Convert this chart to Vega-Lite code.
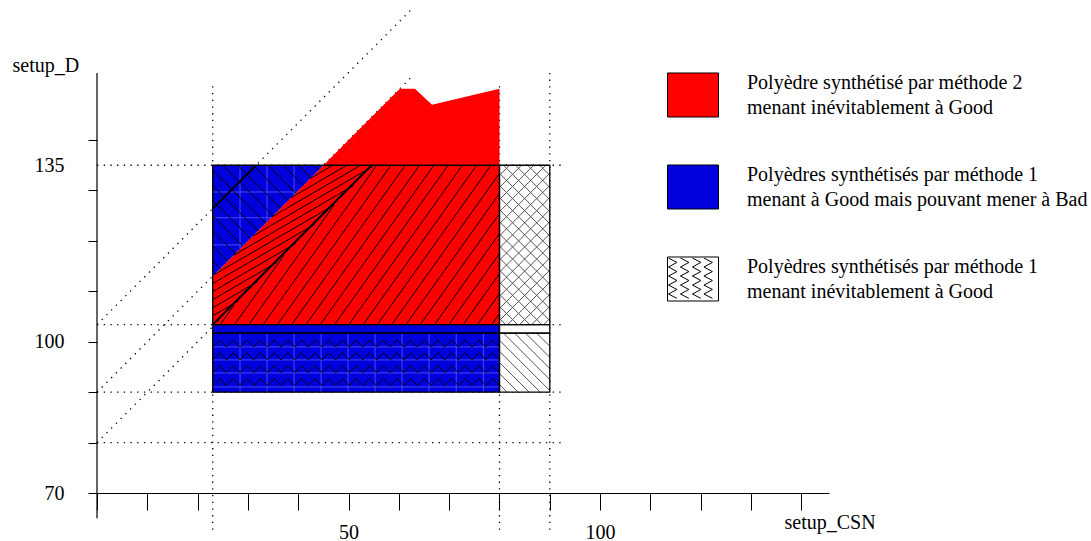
{
  "$schema": "https://vega.github.io/schema/vega-lite/v6.json",
  "width": 732,
  "height": 420,
  "autosize": {"type": "none"},
  "padding": {"left": 97, "top": 73, "right": 262, "bottom": 48},
  "background": "white",
  "config": {"view": {"stroke": null}, "font": "Liberation Serif"},
  "datasets": {
    "dots": [
      {"x": 0, "y": 135, "x2": 92.6, "y2": 135},
      {"x": 0, "y": 103.4, "x2": 92.6, "y2": 103.4},
      {"x": 0, "y": 90, "x2": 92.6, "y2": 90},
      {"x": 0, "y": 80, "x2": 92.6, "y2": 80},
      {"x": 23, "y": 62.7, "x2": 23, "y2": 150.8},
      {"x": 80, "y": 62.7, "x2": 80, "y2": 150.8},
      {"x": 90, "y": 62.7, "x2": 90, "y2": 153.3},
      {"x": 0, "y": 103.4, "x2": 62.6, "y2": 166},
      {"x": 0, "y": 90, "x2": 62.6, "y2": 152.6},
      {"x": 0, "y": 80, "x2": 62.6, "y2": 142.6}
    ],
    "red": [
      {"cat": "Polyèdre synthétisé par méthode 2|menant inévitablement à Good", "x": 23, "y": 113, "y2": 103.4},
      {"cat": "Polyèdre synthétisé par méthode 2|menant inévitablement à Good", "x": 60.2, "y": 150.2, "y2": 103.4},
      {"cat": "Polyèdre synthétisé par méthode 2|menant inévitablement à Good", "x": 63.2, "y": 150.2, "y2": 103.4},
      {"cat": "Polyèdre synthétisé par méthode 2|menant inévitablement à Good", "x": 66.6, "y": 147, "y2": 103.4},
      {"cat": "Polyèdre synthétisé par méthode 2|menant inévitablement à Good", "x": 80, "y": 150.2, "y2": 103.4}
    ],
    "blue": [
      {"cat": "Polyèdres synthétisés par méthode 1|menant à Good mais pouvant mener à Bad", "x": 23, "y": 135, "y2": 113},
      {"cat": "Polyèdres synthétisés par méthode 1|menant à Good mais pouvant mener à Bad", "x": 45, "y": 135, "y2": 135}
    ],
    "boxes": [
      {"cat": "Polyèdres synthétisés par méthode 1|menant à Good mais pouvant mener à Bad", "x": 23, "x2": 80, "y": 90, "y2": 103.4},
      {"cat": "Polyèdres synthétisés par méthode 1|menant inévitablement à Good", "x": 80, "x2": 90, "y": 103.4, "y2": 135},
      {"cat": "Polyèdres synthétisés par méthode 1|menant inévitablement à Good", "x": 80, "x2": 90, "y": 90, "y2": 101.7},
      {"cat": "Polyèdres synthétisés par méthode 1|menant inévitablement à Good", "x": 80, "x2": 90, "y": 101.7, "y2": 103.4}
    ],
    "light": [
      {"x": 28.43, "y": 90, "x2": 28.43, "y2": 101.7},
      {"x": 33.8, "y": 90, "x2": 33.8, "y2": 101.7},
      {"x": 39.17, "y": 90, "x2": 39.17, "y2": 101.7},
      {"x": 44.54, "y": 90, "x2": 44.54, "y2": 101.7},
      {"x": 49.9, "y": 90, "x2": 49.9, "y2": 101.7},
      {"x": 55.27, "y": 90, "x2": 55.27, "y2": 101.7},
      {"x": 60.64, "y": 90, "x2": 60.64, "y2": 101.7},
      {"x": 66.0, "y": 90, "x2": 66.0, "y2": 101.7},
      {"x": 71.4, "y": 90, "x2": 71.4, "y2": 101.7},
      {"x": 76.8, "y": 90, "x2": 76.8, "y2": 101.7},
      {"x": 23, "y": 91.03, "x2": 80, "y2": 91.03},
      {"x": 23, "y": 93.81, "x2": 80, "y2": 93.81},
      {"x": 23, "y": 96.39, "x2": 80, "y2": 96.39},
      {"x": 23, "y": 98.97, "x2": 80, "y2": 98.97},
      {"x": 28.43, "y": 118.43, "x2": 28.43, "y2": 135},
      {"x": 33.8, "y": 123.8, "x2": 33.8, "y2": 135},
      {"x": 39.17, "y": 129.17, "x2": 39.17, "y2": 135},
      {"x": 23, "y": 129.7, "x2": 39.7, "y2": 129.7},
      {"x": 23, "y": 124.6, "x2": 34.6, "y2": 124.6},
      {"x": 23, "y": 119.2, "x2": 29.2, "y2": 119.2}
    ],
    "zigzag": [
      {"x": 51.5, "y": 99.65},
      {"x": 51.5, "y": 97.1},
      {"x": 51.5, "y": 94.55},
      {"x": 51.5, "y": 92.0}
    ],
    "hatchBlack": [
      {"x": 24.5, "y": 103.4, "x2": 27.25, "y2": 107.25},
      {"x": 27.34, "y": 103.4, "x2": 37.19, "y2": 117.19},
      {"x": 30.18, "y": 103.4, "x2": 47.13, "y2": 127.13},
      {"x": 33.02, "y": 103.4, "x2": 55.59, "y2": 135},
      {"x": 35.86, "y": 103.4, "x2": 58.43, "y2": 135},
      {"x": 38.7, "y": 103.4, "x2": 61.27, "y2": 135},
      {"x": 41.54, "y": 103.4, "x2": 64.11, "y2": 135},
      {"x": 44.38, "y": 103.4, "x2": 66.95, "y2": 135},
      {"x": 47.22, "y": 103.4, "x2": 69.79, "y2": 135},
      {"x": 50.06, "y": 103.4, "x2": 72.63, "y2": 135},
      {"x": 52.9, "y": 103.4, "x2": 75.47, "y2": 135},
      {"x": 55.74, "y": 103.4, "x2": 78.31, "y2": 135},
      {"x": 58.58, "y": 103.4, "x2": 80, "y2": 133.39},
      {"x": 61.42, "y": 103.4, "x2": 80, "y2": 129.41},
      {"x": 64.26, "y": 103.4, "x2": 80, "y2": 125.44},
      {"x": 67.1, "y": 103.4, "x2": 80, "y2": 121.46},
      {"x": 69.94, "y": 103.4, "x2": 80, "y2": 117.48},
      {"x": 72.78, "y": 103.4, "x2": 80, "y2": 113.51},
      {"x": 75.62, "y": 103.4, "x2": 80, "y2": 109.53},
      {"x": 78.46, "y": 103.4, "x2": 80, "y2": 105.56},
      {"x": 23, "y": 103.54, "x2": 24.29, "y2": 104.29},
      {"x": 23, "y": 105.14, "x2": 28.1, "y2": 108.1},
      {"x": 23, "y": 106.74, "x2": 31.9, "y2": 111.9},
      {"x": 23, "y": 108.34, "x2": 35.71, "y2": 115.71},
      {"x": 23, "y": 109.94, "x2": 39.52, "y2": 119.52},
      {"x": 23, "y": 111.54, "x2": 43.33, "y2": 123.33},
      {"x": 23.33, "y": 113.33, "x2": 47.14, "y2": 127.14},
      {"x": 27.14, "y": 117.14, "x2": 50.95, "y2": 130.95},
      {"x": 30.95, "y": 120.95, "x2": 54.76, "y2": 134.76},
      {"x": 34.76, "y": 124.76, "x2": 52.41, "y2": 135},
      {"x": 38.57, "y": 128.57, "x2": 49.66, "y2": 135},
      {"x": 42.38, "y": 132.38, "x2": 46.9, "y2": 135},
      {"x": 23, "y": 116, "x2": 24.5, "y2": 114.5},
      {"x": 23, "y": 119, "x2": 26, "y2": 116},
      {"x": 23, "y": 122, "x2": 27.5, "y2": 117.5},
      {"x": 23, "y": 125, "x2": 29, "y2": 119},
      {"x": 23, "y": 128, "x2": 30.5, "y2": 120.5},
      {"x": 23, "y": 131, "x2": 32, "y2": 122},
      {"x": 23, "y": 134, "x2": 33.5, "y2": 123.5},
      {"x": 25, "y": 135, "x2": 35, "y2": 125},
      {"x": 28, "y": 135, "x2": 36.5, "y2": 126.5},
      {"x": 31, "y": 135, "x2": 38, "y2": 128},
      {"x": 34, "y": 135, "x2": 39.5, "y2": 129.5},
      {"x": 37, "y": 135, "x2": 41, "y2": 131},
      {"x": 40, "y": 135, "x2": 42.5, "y2": 132.5},
      {"x": 43, "y": 135, "x2": 44, "y2": 134}
    ],
    "hatchGray": [
      {"x": 88.8, "y": 103.4, "x2": 90, "y2": 104.6},
      {"x": 86.4, "y": 103.4, "x2": 90, "y2": 107},
      {"x": 84, "y": 103.4, "x2": 90, "y2": 109.4},
      {"x": 81.6, "y": 103.4, "x2": 90, "y2": 111.8},
      {"x": 80, "y": 104.2, "x2": 90, "y2": 114.2},
      {"x": 80, "y": 106.6, "x2": 90, "y2": 116.6},
      {"x": 80, "y": 109, "x2": 90, "y2": 119},
      {"x": 80, "y": 111.4, "x2": 90, "y2": 121.4},
      {"x": 80, "y": 113.8, "x2": 90, "y2": 123.8},
      {"x": 80, "y": 116.2, "x2": 90, "y2": 126.2},
      {"x": 80, "y": 118.6, "x2": 90, "y2": 128.6},
      {"x": 80, "y": 121, "x2": 90, "y2": 131},
      {"x": 80, "y": 123.4, "x2": 90, "y2": 133.4},
      {"x": 80, "y": 125.8, "x2": 89.2, "y2": 135},
      {"x": 80, "y": 128.2, "x2": 86.8, "y2": 135},
      {"x": 80, "y": 130.6, "x2": 84.4, "y2": 135},
      {"x": 80, "y": 133, "x2": 82, "y2": 135},
      {"x": 80, "y": 104.6, "x2": 81.2, "y2": 103.4},
      {"x": 80, "y": 107, "x2": 83.6, "y2": 103.4},
      {"x": 80, "y": 109.4, "x2": 86, "y2": 103.4},
      {"x": 80, "y": 111.8, "x2": 88.4, "y2": 103.4},
      {"x": 80, "y": 114.2, "x2": 90, "y2": 104.2},
      {"x": 80, "y": 116.6, "x2": 90, "y2": 106.6},
      {"x": 80, "y": 119, "x2": 90, "y2": 109},
      {"x": 80, "y": 121.4, "x2": 90, "y2": 111.4},
      {"x": 80, "y": 123.8, "x2": 90, "y2": 113.8},
      {"x": 80, "y": 126.2, "x2": 90, "y2": 116.2},
      {"x": 80, "y": 128.6, "x2": 90, "y2": 118.6},
      {"x": 80, "y": 131, "x2": 90, "y2": 121},
      {"x": 80, "y": 133.4, "x2": 90, "y2": 123.4},
      {"x": 80.8, "y": 135, "x2": 90, "y2": 125.8},
      {"x": 83.2, "y": 135, "x2": 90, "y2": 128.2},
      {"x": 85.6, "y": 135, "x2": 90, "y2": 130.6},
      {"x": 88, "y": 135, "x2": 90, "y2": 133},
      {"x": 80, "y": 91.5, "x2": 81.5, "y2": 90},
      {"x": 80, "y": 93.7, "x2": 83.7, "y2": 90},
      {"x": 80, "y": 95.9, "x2": 85.9, "y2": 90},
      {"x": 80, "y": 98.1, "x2": 88.1, "y2": 90},
      {"x": 80, "y": 100.3, "x2": 90, "y2": 90.3},
      {"x": 80.8, "y": 101.7, "x2": 90, "y2": 92.5},
      {"x": 83, "y": 101.7, "x2": 90, "y2": 94.7},
      {"x": 85.2, "y": 101.7, "x2": 90, "y2": 96.9},
      {"x": 87.4, "y": 101.7, "x2": 90, "y2": 99.1}
    ],
    "outlines": [
      {"x": 23, "x2": 80, "y": 103.4, "y2": 135},
      {"x": 23, "x2": 80, "y": 90, "y2": 101.7},
      {"x": 23, "x2": 80, "y": 101.7, "y2": 103.4},
      {"x": 80, "x2": 90, "y": 103.4, "y2": 135},
      {"x": 80, "x2": 90, "y": 90, "y2": 101.7},
      {"x": 80, "x2": 90, "y": 101.7, "y2": 103.4}
    ],
    "solid": [
      {"x": 23, "y": 126.4, "x2": 31.6, "y2": 135},
      {"x": 23, "y": 103.4, "x2": 54.6, "y2": 135}
    ],
    "yaxis": [
      {"x": 0, "y": 65, "x2": 0, "y2": 153.3}
    ]
  },
  "encoding": {
    "x": {
      "field": "x", "type": "quantitative",
      "scale": {"domain": [0, 145.5], "nice": false, "zero": false},
      "axis": {
        "values": [0, 10, 20, 30, 40, 50, 60, 70, 80, 90, 100, 110, 120, 130, 140],
        "labelExpr": "datum.value == 50 || datum.value == 100 ? datum.label : ''",
        "grid": false, "domainColor": "black", "domainWidth": 1,
        "tickColor": "black", "tickSize": 17, "tickWidth": 1,
        "labelFont": "Liberation Serif", "labelFontSize": 20, "labelColor": "black", "labelPadding": 12,
        "title": "setup_CSN", "titleX": 687, "titleY": 35, "titleAlign": "left", "titleBaseline": "alphabetic",
        "titleFont": "Liberation Serif", "titleFontSize": 20, "titleFontWeight": "normal", "titleColor": "black"
      }
    },
    "y": {
      "field": "y", "type": "quantitative",
      "scale": {"domain": [70, 153.3], "nice": false, "zero": false},
      "axis": {
        "values": [70, 80, 90, 100, 110, 120, 130, 135, 140],
        "labelExpr": "datum.value == 70 || datum.value == 100 || datum.value == 135 ? datum.label : ''",
        "grid": false, "domain": false,
        "tickColor": "black", "tickSize": 9, "tickWidth": 1,
        "tickOpacity": {"condition": {"test": "datum.value == 135", "value": 0}, "value": 1},
        "labelFont": "Liberation Serif", "labelFontSize": 20, "labelColor": "black", "labelPadding": 24,
        "title": "setup_D", "titleAngle": 0, "titleX": -85, "titleY": -2, "titleAlign": "left", "titleBaseline": "alphabetic",
        "titleFont": "Liberation Serif", "titleFontSize": 20, "titleFontWeight": "normal", "titleColor": "black"
      }
    }
  },
  "layer": [
    {
      "data": {"name": "dots"},
      "mark": {"type": "rule", "color": "black", "strokeWidth": 1.3, "strokeDash": [1.3, 5.4]},
      "encoding": {"x2": {"field": "x2"}, "y2": {"field": "y2"}}
    },
    {
      "data": {"name": "red"},
      "mark": {"type": "area", "opacity": 1, "interpolate": "linear"},
      "encoding": {
        "y2": {"field": "y2"},
        "color": {
          "field": "cat", "type": "nominal",
          "scale": {
            "domain": ["Polyèdre synthétisé par méthode 2|menant inévitablement à Good", "Polyèdres synthétisés par méthode 1|menant à Good mais pouvant mener à Bad", "Polyèdres synthétisés par méthode 1|menant inévitablement à Good"],
            "range": ["#ff0000", "#0000dd", "#ffffff"]
          },
          "legend": {
            "orient": "none", "legendX": 570, "legendY": -4, "title": null, "padding": 0,
            "symbolSize": 2601, "symbolStrokeColor": "black", "symbolStrokeWidth": 1, "symbolOpacity": 1,
            "labelFont": "Liberation Serif", "labelFontSize": 20, "labelColor": "black", "labelOffset": 28, "labelLimit": 500,
            "rowPadding": 41,
            "labelExpr": "split(datum.label, '|')",
            "encode": {
              "symbols": {"update": {
                "shape": {"signal": "datum.value === 'Polyèdres synthétisés par méthode 1|menant inévitablement à Good' ? 'M-1,-0.863H1V0.863H-1Z M-0.96,-0.82L-0.63,-0.65L-0.96,-0.47L-0.63,-0.29L-0.96,-0.12L-0.63,0.06L-0.96,0.24L-0.63,0.41L-0.96,0.59L-0.63,0.76 M-0.49,-0.82L-0.16,-0.65L-0.49,-0.47L-0.16,-0.29L-0.49,-0.12L-0.16,0.06L-0.49,0.24L-0.16,0.41L-0.49,0.59L-0.16,0.76 M-0.02,-0.82L0.31,-0.65L-0.02,-0.47L0.31,-0.29L-0.02,-0.12L0.31,0.06L-0.02,0.24L0.31,0.41L-0.02,0.59L0.31,0.76 M0.43,-0.82L0.76,-0.65L0.43,-0.47L0.76,-0.29L0.43,-0.12L0.76,0.06L0.43,0.24L0.76,0.41L0.43,0.59L0.76,0.76' : 'M-1,-0.863H1V0.863H-1Z'"},
                "stroke": {"value": "black"},
                "strokeWidth": {"value": 1},
                "opacity": {"value": 1}
              }},
              "labels": {"update": {"lineHeight": {"value": 25}, "dy": {"value": -12.5}}}
            }
          }
        }
      }
    },
    {
      "data": {"name": "blue"},
      "mark": {"type": "area", "opacity": 1, "interpolate": "linear"},
      "encoding": {
        "y2": {"field": "y2"},
        "color": {"field": "cat", "type": "nominal"}
      }
    },
    {
      "data": {"name": "boxes"},
      "mark": {"type": "rect", "opacity": 1},
      "encoding": {
        "x2": {"field": "x2"}, "y2": {"field": "y2"},
        "color": {"field": "cat", "type": "nominal"}
      }
    },
    {
      "data": {"name": "light"},
      "mark": {"type": "rule", "color": "#4a4aee", "strokeWidth": 1},
      "encoding": {"x2": {"field": "x2"}, "y2": {"field": "y2"}}
    },
    {
      "data": {"name": "zigzag"},
      "mark": {
        "type": "point", "filled": false, "stroke": "black", "strokeWidth": 1, "opacity": 1, "size": 82197,
        "shape": "M-1,0.0244L-0.9524,-0.0244L-0.9048,0.0244L-0.8571,-0.0244L-0.8095,0.0244L-0.7619,-0.0244L-0.7143,0.0244L-0.6667,-0.0244L-0.619,0.0244L-0.5714,-0.0244L-0.5238,0.0244L-0.4762,-0.0244L-0.4286,0.0244L-0.381,-0.0244L-0.3333,0.0244L-0.2857,-0.0244L-0.2381,0.0244L-0.1905,-0.0244L-0.1429,0.0244L-0.0952,-0.0244L-0.0476,0.0244L0,-0.0244L0.0476,0.0244L0.0952,-0.0244L0.1429,0.0244L0.1905,-0.0244L0.2381,0.0244L0.2857,-0.0244L0.3333,0.0244L0.381,-0.0244L0.4286,0.0244L0.4762,-0.0244L0.5238,0.0244L0.5714,-0.0244L0.619,0.0244L0.6667,-0.0244L0.7143,0.0244L0.7619,-0.0244L0.8095,0.0244L0.8571,-0.0244L0.9048,0.0244L0.9524,-0.0244L1,0.0244"
      },
      "encoding": {}
    },
    {
      "data": {"name": "hatchBlack"},
      "mark": {"type": "rule", "color": "black", "strokeWidth": 1},
      "encoding": {"x2": {"field": "x2"}, "y2": {"field": "y2"}}
    },
    {
      "data": {"name": "hatchGray"},
      "mark": {"type": "rule", "color": "#555555", "strokeWidth": 1},
      "encoding": {"x2": {"field": "x2"}, "y2": {"field": "y2"}}
    },
    {
      "data": {"name": "outlines"},
      "mark": {"type": "rect", "fill": null, "fillOpacity": 0, "stroke": "black", "strokeWidth": 1.3},
      "encoding": {"x2": {"field": "x2"}, "y2": {"field": "y2"}}
    },
    {
      "data": {"name": "solid"},
      "mark": {"type": "rule", "color": "black", "strokeWidth": 2},
      "encoding": {"x2": {"field": "x2"}, "y2": {"field": "y2"}}
    },
    {
      "data": {"name": "yaxis"},
      "mark": {"type": "rule", "color": "black", "strokeWidth": 1.2},
      "encoding": {"x2": {"field": "x2"}, "y2": {"field": "y2"}}
    }
  ]
}
